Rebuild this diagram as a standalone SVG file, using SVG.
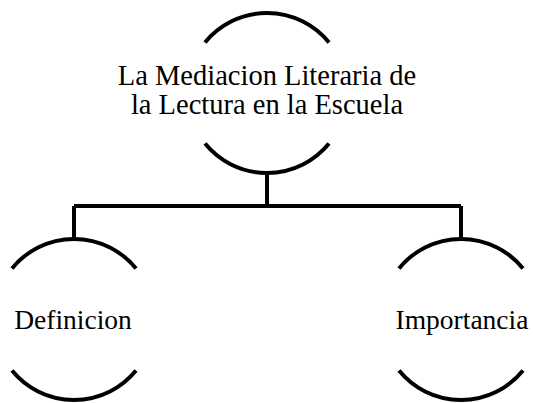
<svg xmlns="http://www.w3.org/2000/svg" width="533" height="403" viewBox="0 0 533 403">
<style>
.arc{fill:none;stroke:#000;stroke-width:4;}
.conn{fill:none;stroke:#000;stroke-width:4;}
text{font-family:"Liberation Serif","Times New Roman",serif;fill:#000;text-anchor:middle;}
.t1{font-size:28.5px;}
.t2{font-size:27.5px;}
</style>
<rect width="533" height="403" fill="#fff"/>
<g id="connectors">
<path class="conn" d="M267,173 V206 M74,206 H461 M74,206 V239 M461,206 V239"/>
</g>
<g id="node-root">
<path class="arc" d="M205,42.4 A80,80 0 0 1 329,42.4"/>
<path class="arc" d="M205,143.6 A80,80 0 0 0 329,143.6"/>
<text class="t1" x="267" y="85">La Mediacion Literaria de</text>
<text class="t1" x="267" y="114">la Lectura en la Escuela</text>
</g>
<g id="node-definicion">
<path class="arc" d="M12,268.4 A80,80 0 0 1 136,268.4"/>
<path class="arc" d="M12,370.6 A80,80 0 0 0 136,370.6"/>
<text class="t2" x="73" y="329">Definicion</text>
</g>
<g id="node-importancia">
<path class="arc" d="M399,268.4 A80,80 0 0 1 523,268.4"/>
<path class="arc" d="M399,370.6 A80,80 0 0 0 523,370.6"/>
<text class="t2" x="462" y="329">Importancia</text>
</g>
</svg>
